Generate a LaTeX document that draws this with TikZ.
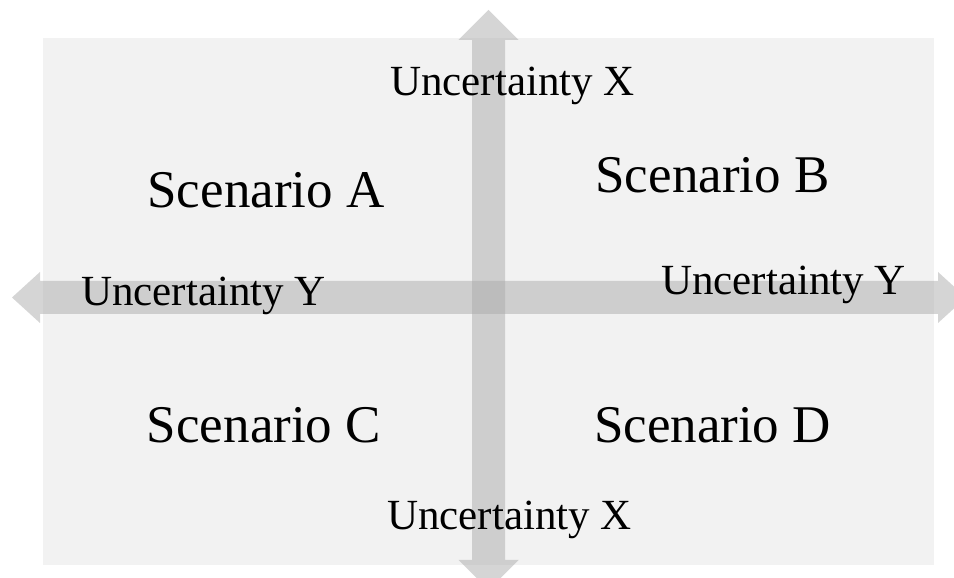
\documentclass[tikz,border=0pt]{standalone}
\usepackage{fontspec}
\setmainfont{Liberation Serif}
\usetikzlibrary{calc}
\begin{document}
\begin{tikzpicture}[x=1pt,y=1pt,
  bg/.style={fill=black!5,draw=none},
  axisarrow/.style={fill=black!33,fill opacity=0.5,draw=none},
  axislabel/.style={font=\fontsize{43}{43}\selectfont,anchor=base,inner sep=0pt},
  scenlabel/.style={font=\fontsize{53}{53}\selectfont,anchor=base,inner sep=0pt}]
\useasboundingbox (0,0) rectangle (954,578);
\clip (0,0) rectangle (954,578);
% background panel
\fill[bg] (43,13) rectangle (934,540);
% axis end points
\coordinate (hL) at (12,280.5);
\coordinate (hR) at (966,280.5);
\coordinate (vT) at (488.5,568);
\coordinate (vB) at (488.5,-12);
% horizontal double arrow
\fill[axisarrow] (hL) -- ($(hL)+(28,25.5)$) -- ($(hL)+(28,16.5)$) -- ($(hR)+(-28,16.5)$) -- ($(hR)+(-28,25.5)$) -- (hR)
  -- ($(hR)+(-28,-25.5)$) -- ($(hR)+(-28,-16.5)$) -- ($(hL)+(28,-16.5)$) -- ($(hL)+(28,-25.5)$) -- cycle;
% vertical double arrow
\fill[axisarrow] (vT) -- ($(vT)+(30,-30)$) -- ($(vT)+(16.5,-30)$) -- ($(vB)+(16.5,30)$) -- ($(vB)+(30,30)$) -- (vB)
  -- ($(vB)+(-30,30)$) -- ($(vB)+(-16.5,30)$) -- ($(vT)+(-16.5,-30)$) -- ($(vT)+(-30,-30)$) -- cycle;
% labels
\node[axislabel] (uxt) at (512.5,482) {Uncertainty X};
\node[axislabel] (uxb) at (509.5,48) {Uncertainty X};
\node[axislabel] (uyl) at (203.5,272) {Uncertainty Y};
\node[axislabel] (uyr) at (783.5,283) {Uncertainty Y};
\node[scenlabel] (sa) at (266,370) {Scenario A};
\node[scenlabel] (sb) at (712.5,385) {Scenario B};
\node[scenlabel] (sc) at (264,135) {Scenario C};
\node[scenlabel] (sd) at (712.5,135) {Scenario D};
\end{tikzpicture}
\end{document}
